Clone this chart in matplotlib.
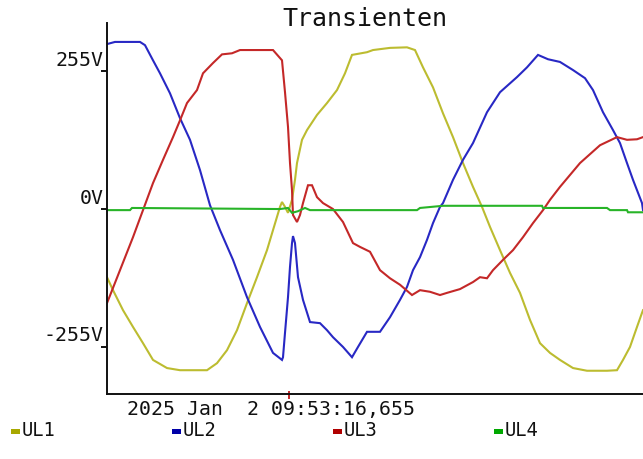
import matplotlib
matplotlib.use("Agg")
import matplotlib.pyplot as plt
import matplotlib.transforms as mtransforms
from matplotlib.patches import Rectangle

# Transient recording, time in ms from start of window, voltage in V
ul1_t = [0, 0.3, 0.8, 1.3, 1.8, 2.3, 3.0, 3.65, 5.0, 5.5, 6.0, 6.5, 7.0, 7.5, 8.0, 8.3,
         8.65, 8.75, 8.9, 9.05, 9.25, 9.4, 9.5, 9.75, 10.0, 10.5, 11.0, 11.5, 11.9, 12.25,
         13.0, 13.3, 14.15, 15.0, 15.4, 15.8, 16.3, 16.8, 17.3, 17.8, 18.3, 18.75, 19.15,
         19.65, 20.15, 20.65, 21.15, 21.65, 22.15, 22.65, 23.3, 24.0, 25.0, 25.5, 25.8,
         26.15, 26.5, 26.75, 26.8]
ul1_v = [-126, -150, -187, -218, -248, -279, -294, -298, -298, -285, -261, -224, -174, -126,
         -76, -39, 4, 13, 4, -7, 17, 54, 85, 128, 146, 174, 196, 220, 251, 285,
         290, 294, 298, 299, 294, 262, 225, 177, 133, 85, 41, 4, -33,
         -76, -118, -155, -205, -248, -266, -279, -294, -299, -299, -298, -279,
         -255, -218, -192, -187]

ul2_t = [0, 0.4, 1.65, 1.9, 2.3, 2.65, 3.15, 3.65, 4.15, 4.65, 5.15, 5.65, 6.3, 7.0, 7.65,
         8.3, 8.75, 8.8, 8.9, 9.05, 9.15, 9.25, 9.3, 9.4, 9.55, 9.8, 10.15, 10.65, 11.0,
         11.3, 11.8, 12.25, 12.55, 13.0, 13.65, 14.15, 14.65, 15.0, 15.3, 15.65, 16.0,
         16.3, 16.65, 16.8, 17.3, 17.8, 18.3, 19.0, 19.65, 20.5, 21.0, 21.55, 22.05,
         22.65, 23.3, 23.9, 24.3, 24.8, 25.3, 25.65, 26.0, 26.3, 26.75, 26.8]
ul2_v = [305, 309, 309, 303, 275, 251, 214, 168, 128, 72, 7, -39, -94, -163, -218,
         -266, -279, -274, -229, -163, -107, -63, -50, -63, -126, -168, -209, -211, -224,
         -237, -255, -274, -255, -227, -227, -200, -168, -144, -113, -89, -57,
         -26, 4, 11, 54, 91, 122, 179, 216, 244, 262, 285, 277,
         272, 257, 242, 220, 179, 146, 122, 85, 54, 11, -2]

ul3_t = [0, 0.65, 1.3, 1.8, 2.3, 2.8, 3.3, 3.65, 4.0, 4.5, 4.8, 5.3, 5.75, 6.25, 6.65, 8.3,
         8.75, 8.9, 9.05, 9.15, 9.25, 9.3, 9.5, 9.65, 9.8, 10.05, 10.25, 10.5, 10.8, 11.3,
         11.8, 12.3, 12.65, 13.15, 13.65, 14.15, 14.65, 15.25, 15.65, 16.15, 16.65, 17.0,
         17.65, 18.3, 18.65, 19.0, 19.3, 19.8, 20.3, 20.8, 21.3, 21.8, 22.15, 22.65,
         23.65, 24.65, 25.5, 26.0, 26.5, 26.8]
ul3_v = [-174, -113, -52, -2, 48, 91, 133, 164, 196, 220, 251, 270, 286, 288, 294, 294,
         275, 216, 152, 85, 35, -11, -24, -11, 11, 44, 44, 22, 11, 0,
         -24, -63, -70, -79, -113, -128, -140, -159, -150, -153, -159, -155,
         -148, -135, -126, -128, -113, -94, -76, -52, -26, -2, 17, 41,
         85, 118, 133, 128, 129, 133]

ul4_t = [0, 1.15, 1.25, 8.65, 9.05, 9.25, 9.55, 9.9, 10.15, 15.5, 15.65, 16.8, 21.75, 21.8,
         25.0, 25.15, 26.0, 26.05, 26.8]
ul4_v = [-2, -2, 2, 0, 2, -7, -4, 2, -2, -2, 2, 6, 6, 2,
         2, -2, -2, -6, -6]

series_names = ["UL1", "UL2", "UL3", "UL4"]
line_colors = ["#bcbc30", "#2828c4", "#c42828", "#28b428"]
legend_colors = ["#a8a800", "#0000a8", "#b00000", "#00a800"]

y_ticks = [-255, 0, 255]
y_tick_labels = ["-255V", "0V", "255V"]
trigger_ms = 9.1
timestamp = "2025 Jan  2 09:53:16,655"
title = "Transienten"

mono = "DejaVu Sans Mono"

fig = plt.figure(figsize=(6.43, 4.59), dpi=100)
ax = fig.add_axes([107 / 643, 1 - 394 / 459, 536 / 643, 371 / 459])

for t, v, c in zip([ul1_t, ul2_t, ul3_t, ul4_t], [ul1_v, ul2_v, ul3_v, ul4_v], line_colors):
    ax.plot(t, v, color=c, linewidth=1.5, solid_joinstyle="miter")

ax.set_xlim(0, 26.8)
ax.set_ylim(-342, 344)

for side in ["top", "right"]:
    ax.spines[side].set_visible(False)
for side in ["left", "bottom"]:
    ax.spines[side].set_linewidth(1.4)
    ax.spines[side].set_color("#111111")

ax.set_xticks([])
ax.set_yticks(y_ticks)
ax.set_yticklabels(y_tick_labels, fontsize=14.3, family=mono, color="#111111")
ax.tick_params(axis="y", length=4.5, width=1.4, pad=-2, color="#111111")
# labels sit above their tick marks in the original
offset = mtransforms.ScaledTranslation(0, 0.13, fig.dpi_scale_trans)
for lbl in ax.get_yticklabels():
    lbl.set_transform(lbl.get_transform() + offset)

# trigger mark on the time axis
tr = mtransforms.blended_transform_factory(ax.transData, ax.transAxes)
ax.plot([trigger_ms, trigger_ms], [-0.011, 0.006], color="#c42828", linewidth=1.4,
        transform=tr, clip_on=False)

fig.text(365 / 643, 1 - 19 / 459, title, ha="center", va="center",
         fontsize=18, family=mono, color="#111111")
fig.text(127 / 643, 1 - 410 / 459, timestamp, ha="left", va="center",
         fontsize=14.3, family=mono, color="#111111")

# legend row along the bottom
for i, (name, c) in enumerate(zip(series_names, legend_colors)):
    x0 = 11 + i * 161
    fig.patches.append(Rectangle((x0 / 643, 1 - 434 / 459), 9 / 643, 5 / 459,
                                 transform=fig.transFigure, facecolor=c, edgecolor="none"))
    fig.text((x0 + 11) / 643, 1 - 431 / 459, name, ha="left", va="center",
             fontsize=13.5, family=mono, color="#111111")

fig.savefig("out.png", dpi=100, facecolor="white")
